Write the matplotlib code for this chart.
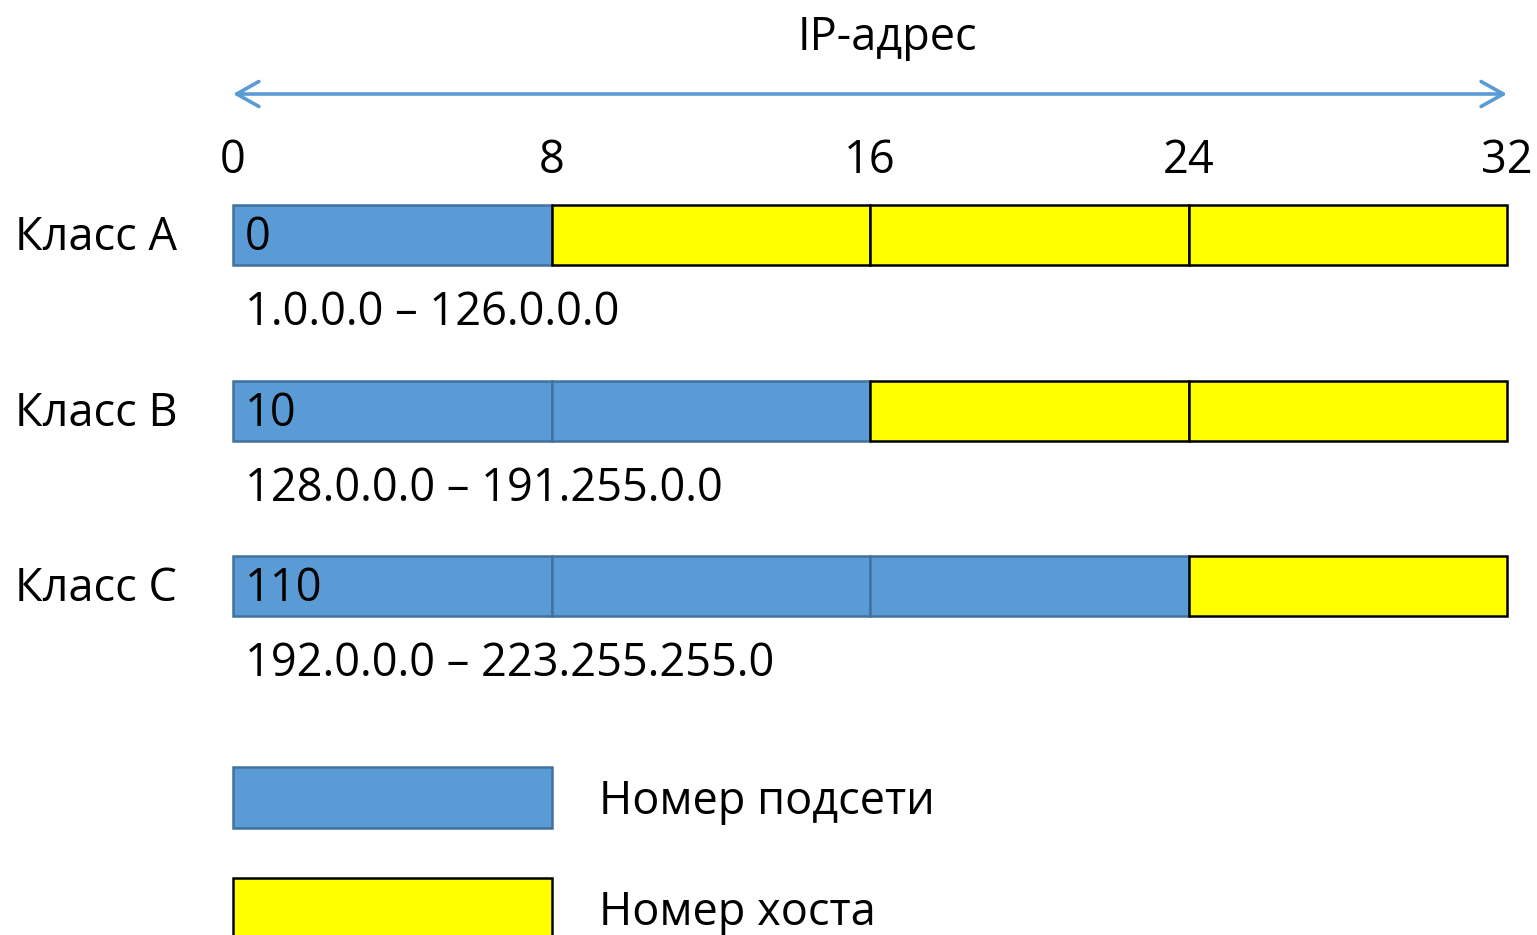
import matplotlib.pyplot as plt
from matplotlib.patches import Rectangle

plt.rcParams['font.family'] = ['Open Sans', 'DejaVu Sans']

classes = ['Класс A', 'Класс B', 'Класс C']
lead_bits = ['0', '10', '110']
net_octets = [1, 2, 3]
ranges = ['1.0.0.0 – 126.0.0.0', '128.0.0.0 – 191.255.0.0', '192.0.0.0 – 223.255.255.0']
ticks = [0, 8, 16, 24, 32]
legend_labels = ['Номер подсети', 'Номер хоста']

blue = '#5B9BD5'
blue_edge = '#41719C'
yellow = '#FFFF00'

W, H = 1537, 935
x0, x32 = 233, 1507
px = (x32 - x0) / 32.0

fig = plt.figure(figsize=(W / 100, H / 100), dpi=100)
ax = fig.add_axes([0, 0, 1, 1])
ax.set_xlim(-x0 / px, (W - x0) / px)
ax.set_ylim(H, 0)
ax.axis('off')

fs = 32.5

# top arrow and title
ax.annotate('', xy=(32, 94), xytext=(0, 94),
            arrowprops=dict(arrowstyle='<->,head_length=1.6,head_width=0.9',
                            color=blue, lw=2.6, shrinkA=0, shrinkB=0))
ax.text(16.45, 38, 'IP-адрес', ha='center', va='center', fontsize=fs)
for t in ticks:
    ax.text(t, 161, str(t), ha='center', va='center', fontsize=fs)

row_top = [205, 381, 556]
bar_h = 60
for i, name in enumerate(classes):
    y = row_top[i]
    for k in range(4):
        if k < net_octets[i]:
            fc, ec = blue, blue_edge
        else:
            fc, ec = yellow, 'black'
        ax.add_patch(Rectangle((k * 8, y), 8, bar_h, facecolor=fc,
                               edgecolor=ec, lw=1.8, zorder=2 if k < net_octets[i] else 3))
    ax.text(-5.48, y + bar_h / 2 + 3, name, ha='left', va='center', fontsize=fs)
    ax.text(0.3, y + bar_h / 2 + 3, lead_bits[i], ha='left', va='center', fontsize=fs, zorder=4)
    ax.text(0.3, y + 108, ranges[i], ha='left', va='center', fontsize=fs)

# legend
leg_y = [767, 878]
leg_fc = [blue, yellow]
leg_ec = [blue_edge, 'black']
for j, lab in enumerate(legend_labels):
    ax.add_patch(Rectangle((0, leg_y[j]), 8, 61, facecolor=leg_fc[j],
                           edgecolor=leg_ec[j], lw=1.8, clip_on=False))
    ax.text(9.2, leg_y[j] + 35, lab, ha='left', va='center', fontsize=fs)

fig.savefig('out.png', dpi=100)
